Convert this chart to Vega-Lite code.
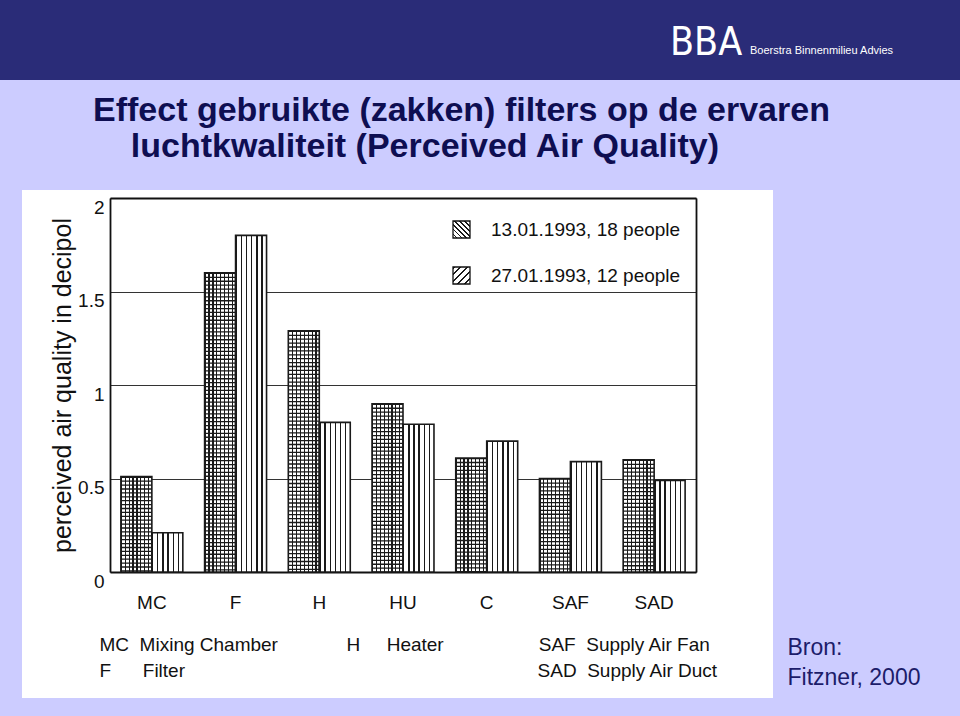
{
  "$schema": "https://vega.github.io/schema/vega-lite/v6.json",
  "background": "#ccccff",
  "padding": {"left": 0, "top": 0, "right": 0, "bottom": 18},
  "spacing": 14,
  "config": {"view": {"stroke": null}},
  "datasets": {
    "bars": [
      {"component": "MC", "series": "13.01.1993, 18 people", "value": 0.51},
      {"component": "MC", "series": "27.01.1993, 12 people", "value": 0.21},
      {"component": "F", "series": "13.01.1993, 18 people", "value": 1.60},
      {"component": "F", "series": "27.01.1993, 12 people", "value": 1.80},
      {"component": "H", "series": "13.01.1993, 18 people", "value": 1.29},
      {"component": "H", "series": "27.01.1993, 12 people", "value": 0.80},
      {"component": "HU", "series": "13.01.1993, 18 people", "value": 0.90},
      {"component": "HU", "series": "27.01.1993, 12 people", "value": 0.79},
      {"component": "C", "series": "13.01.1993, 18 people", "value": 0.61},
      {"component": "C", "series": "27.01.1993, 12 people", "value": 0.70},
      {"component": "SAF", "series": "13.01.1993, 18 people", "value": 0.50},
      {"component": "SAF", "series": "27.01.1993, 12 people", "value": 0.59},
      {"component": "SAD", "series": "13.01.1993, 18 people", "value": 0.60},
      {"component": "SAD", "series": "27.01.1993, 12 people", "value": 0.49}
    ]
  },
  "vconcat": [
    {
      "width": 960,
      "height": 80,
      "view": {"fill": "#2a2c78", "stroke": null},
      "layer": [
        {
          "data": {"values": [{"t": "BBA"}]},
          "mark": {"type": "text", "align": "left", "baseline": "alphabetic", "dx": 190, "dy": 15, "font": "DejaVu Sans Condensed, DejaVu Sans", "fontSize": 39, "color": "#ffffff"},
          "encoding": {"text": {"field": "t"}}
        },
        {
          "data": {"values": [{"t": "Boerstra Binnenmilieu Advies"}]},
          "mark": {"type": "text", "align": "left", "baseline": "alphabetic", "dx": 270, "dy": 14, "font": "Liberation Sans", "fontSize": 11, "color": "#ffffff"},
          "encoding": {"text": {"field": "t"}}
        }
      ]
    },
    {
      "spacing": 0,
      "hconcat": [
        {
          "width": 22,
          "height": 10,
          "view": {"fill": "#ccccff", "stroke": null},
          "data": {"values": [{"t": ""}]},
          "mark": {"type": "text"},
          "encoding": {"text": {"field": "t"}}
        },
        {
          "width": 751,
          "height": 508,
          "view": {"fill": "#ffffff", "stroke": null},
          "title": {
            "text": ["Effect gebruikte (zakken) filters op de ervaren", "\u200b\u00a0\u00a0\u00a0\u00a0luchtkwaliteit (Perceived Air Quality)"],
            "anchor": "start",
            "dx": 71,
            "offset": 26,
            "font": "Liberation Sans",
            "fontSize": 34,
            "fontWeight": "bold",
            "color": "#0e0e52",
            "lineHeight": 36
          },
          "data": {"name": "bars"},
          "layer": [
            {
              "mark": {"type": "bar", "stroke": null},
              "encoding": {
                "x": {"field": "component", "type": "nominal", "sort": ["MC", "F", "H", "HU", "C", "SAF", "SAD"], "axis": null},
                "xOffset": {"field": "series", "type": "nominal", "sort": ["13.01.1993, 18 people", "27.01.1993, 12 people"]},
                "y": {"field": "value", "type": "quantitative", "axis": null},
                "fill": {
                  "field": "series", "type": "nominal",
                  "sort": ["13.01.1993, 18 people", "27.01.1993, 12 people"],
                  "scale": {"range": [
                    {"expr": "{gradient: 'linear', x1: 1, y1: 0, x2: 0, y2: 1, stops: [{offset: 0, color: '#1a1a1a'}, {offset: 0.05, color: '#1a1a1a'}, {offset: 0.05, color: '#ffffff'}, {offset: 0.1429, color: '#ffffff'}, {offset: 0.1429, color: '#1a1a1a'}, {offset: 0.1929, color: '#1a1a1a'}, {offset: 0.1929, color: '#ffffff'}, {offset: 0.2857, color: '#ffffff'}, {offset: 0.2857, color: '#1a1a1a'}, {offset: 0.3357, color: '#1a1a1a'}, {offset: 0.3357, color: '#ffffff'}, {offset: 0.4286, color: '#ffffff'}, {offset: 0.4286, color: '#1a1a1a'}, {offset: 0.4786, color: '#1a1a1a'}, {offset: 0.4786, color: '#ffffff'}, {offset: 0.5714, color: '#ffffff'}, {offset: 0.5714, color: '#1a1a1a'}, {offset: 0.6214, color: '#1a1a1a'}, {offset: 0.6214, color: '#ffffff'}, {offset: 0.7143, color: '#ffffff'}, {offset: 0.7143, color: '#1a1a1a'}, {offset: 0.7643, color: '#1a1a1a'}, {offset: 0.7643, color: '#ffffff'}, {offset: 0.8571, color: '#ffffff'}, {offset: 0.8571, color: '#1a1a1a'}, {offset: 0.9071, color: '#1a1a1a'}, {offset: 0.9071, color: '#ffffff'}, {offset: 1, color: '#ffffff'}]}"},
                    {"expr": "{gradient: 'linear', x1: 0, y1: 0, x2: 1, y2: 1, stops: [{offset: 0, color: '#1a1a1a'}, {offset: 0.06, color: '#1a1a1a'}, {offset: 0.06, color: '#ffffff'}, {offset: 0.2, color: '#ffffff'}, {offset: 0.2, color: '#1a1a1a'}, {offset: 0.26, color: '#1a1a1a'}, {offset: 0.26, color: '#ffffff'}, {offset: 0.4, color: '#ffffff'}, {offset: 0.4, color: '#1a1a1a'}, {offset: 0.46, color: '#1a1a1a'}, {offset: 0.46, color: '#ffffff'}, {offset: 0.6, color: '#ffffff'}, {offset: 0.6, color: '#1a1a1a'}, {offset: 0.66, color: '#1a1a1a'}, {offset: 0.66, color: '#ffffff'}, {offset: 0.8, color: '#ffffff'}, {offset: 0.8, color: '#1a1a1a'}, {offset: 0.86, color: '#1a1a1a'}, {offset: 0.86, color: '#ffffff'}, {offset: 1, color: '#ffffff'}]}"}
                  ]},
                  "legend": {
                    "orient": "none", "legendX": 452, "legendY": 220, "title": null, "padding": 0,
                    "symbolType": "square", "symbolSize": 289, "symbolStrokeColor": "#111111", "symbolStrokeWidth": 1.3, "symbolOpacity": 1,
                    "labelFont": "Liberation Sans", "labelFontSize": 19, "labelColor": "#111111", "labelOffset": 20, "labelLimit": 400, "rowPadding": 23
                  }
                }
              }
            },
            {
              "transform": [{"filter": "datum.series === '13.01.1993, 18 people'"}],
              "mark": {"type": "bar", "stroke": null, "fill": {"gradient": "linear", "x1": 0, "y1": 0, "x2": 1, "y2": 0, "stops": [
                {"offset": 0, "color": "#1a1a1a"}, {"offset": 0.0375, "color": "#1a1a1a"}, {"offset": 0.0375, "color": "#ffffff"}, {"offset": 0.125, "color": "#ffffff"},
                {"offset": 0.125, "color": "#1a1a1a"}, {"offset": 0.1625, "color": "#1a1a1a"}, {"offset": 0.1625, "color": "#ffffff"}, {"offset": 0.25, "color": "#ffffff"},
                {"offset": 0.25, "color": "#1a1a1a"}, {"offset": 0.2875, "color": "#1a1a1a"}, {"offset": 0.2875, "color": "#ffffff"}, {"offset": 0.375, "color": "#ffffff"},
                {"offset": 0.375, "color": "#1a1a1a"}, {"offset": 0.4125, "color": "#1a1a1a"}, {"offset": 0.4125, "color": "#ffffff"}, {"offset": 0.5, "color": "#ffffff"},
                {"offset": 0.5, "color": "#1a1a1a"}, {"offset": 0.5375, "color": "#1a1a1a"}, {"offset": 0.5375, "color": "#ffffff"}, {"offset": 0.625, "color": "#ffffff"},
                {"offset": 0.625, "color": "#1a1a1a"}, {"offset": 0.6625, "color": "#1a1a1a"}, {"offset": 0.6625, "color": "#ffffff"}, {"offset": 0.75, "color": "#ffffff"},
                {"offset": 0.75, "color": "#1a1a1a"}, {"offset": 0.7875, "color": "#1a1a1a"}, {"offset": 0.7875, "color": "#ffffff"}, {"offset": 0.875, "color": "#ffffff"},
                {"offset": 0.875, "color": "#1a1a1a"}, {"offset": 0.9125, "color": "#1a1a1a"}, {"offset": 0.9125, "color": "#ffffff"}, {"offset": 1, "color": "#ffffff"}
              ]}},
              "encoding": {
                "x": {
                  "field": "component", "type": "nominal",
                  "sort": ["MC", "F", "H", "HU", "C", "SAF", "SAD"],
                  "scale": {"type": "band", "range": [88, 674], "paddingInner": 0.26, "paddingOuter": 0.13},
                  "axis": {
                    "orient": "bottom", "offset": -126, "domain": true, "domainColor": "#111111", "domainWidth": 1.8,
                    "ticks": false, "grid": false, "labelAngle": 0, "labelFont": "Liberation Sans", "labelFontSize": 19,
                    "labelColor": "#111111", "labelPadding": 21,
                    "title": [
                      "MC\u00a0\u00a0Mixing Chamber\u00a0\u00a0\u00a0\u00a0\u00a0\u00a0\u00a0\u00a0\u00a0\u00a0\u00a0\u00a0\u00a0H\u00a0\u00a0\u00a0\u00a0\u00a0Heater\u00a0\u00a0\u00a0\u00a0\u00a0\u00a0\u00a0\u00a0\u00a0\u00a0\u00a0\u00a0\u00a0\u00a0\u00a0\u00a0\u00a0\u00a0SAF\u00a0\u00a0Supply Air Fan",
                      "F\u00a0\u00a0\u00a0\u00a0\u00a0\u00a0Filter\u2003\u2003\u2003\u2003\u2003\u2003\u2003\u2003\u2003\u2003\u2003\u2003\u2003\u2003\u2003\u2003\u2003\u2003\u00a0\u00a0SAD\u00a0\u00a0Supply Air Duct"
                    ],
                    "titleFont": "Liberation Sans", "titleFontSize": 19, "titleFontWeight": "normal", "titleColor": "#111111",
                    "titleAlign": "left", "titleAnchor": "start", "titleBaseline": "alphabetic", "titleX": 77, "titleY": 78, "titleLineHeight": 26
                  }
                },
                "xOffset": {"field": "series", "type": "nominal", "sort": ["13.01.1993, 18 people", "27.01.1993, 12 people"], "scale": {"paddingInner": 0, "paddingOuter": 0}},
                "y": {
                  "field": "value", "type": "quantitative",
                  "scale": {"domain": [0, 2], "range": [382, 8], "nice": false},
                  "axis": {
                    "orient": "left", "offset": -88, "values": [0, 0.5, 1, 1.5, 2], "format": "~g",
                    "domain": true, "domainColor": "#111111", "domainWidth": 1.8, "ticks": false,
                    "labelFont": "Liberation Sans", "labelFontSize": 19, "labelColor": "#111111", "labelPadding": 6, "labelOffset": 9,
                    "grid": true, "gridColor": "#333333", "gridWidth": 1.1,
                    "title": "perceived air quality in decipol", "titleFont": "Liberation Sans", "titleFontSize": 25,
                    "titleFontWeight": "normal", "titleColor": "#111111", "titlePadding": 2
                  }
                }
              }
            },
            {
              "transform": [{"filter": "datum.series === '27.01.1993, 12 people'"}],
              "mark": {"type": "bar", "stroke": null, "fill": {"gradient": "linear", "x1": 0, "y1": 0, "x2": 1, "y2": 0, "stops": [
                {"offset": 0, "color": "#1a1a1a"}, {"offset": 0.045, "color": "#1a1a1a"}, {"offset": 0.045, "color": "#ffffff"}, {"offset": 0.1667, "color": "#ffffff"},
                {"offset": 0.1667, "color": "#1a1a1a"}, {"offset": 0.2117, "color": "#1a1a1a"}, {"offset": 0.2117, "color": "#ffffff"}, {"offset": 0.3333, "color": "#ffffff"},
                {"offset": 0.3333, "color": "#1a1a1a"}, {"offset": 0.3783, "color": "#1a1a1a"}, {"offset": 0.3783, "color": "#ffffff"}, {"offset": 0.5, "color": "#ffffff"},
                {"offset": 0.5, "color": "#1a1a1a"}, {"offset": 0.545, "color": "#1a1a1a"}, {"offset": 0.545, "color": "#ffffff"}, {"offset": 0.6667, "color": "#ffffff"},
                {"offset": 0.6667, "color": "#1a1a1a"}, {"offset": 0.7117, "color": "#1a1a1a"}, {"offset": 0.7117, "color": "#ffffff"}, {"offset": 0.8333, "color": "#ffffff"},
                {"offset": 0.8333, "color": "#1a1a1a"}, {"offset": 0.8783, "color": "#1a1a1a"}, {"offset": 0.8783, "color": "#ffffff"}, {"offset": 1, "color": "#ffffff"}
              ]}},
              "encoding": {
                "x": {"field": "component", "type": "nominal", "sort": ["MC", "F", "H", "HU", "C", "SAF", "SAD"], "axis": null},
                "xOffset": {"field": "series", "type": "nominal", "sort": ["13.01.1993, 18 people", "27.01.1993, 12 people"]},
                "y": {"field": "value", "type": "quantitative", "axis": null}
              }
            },
            {
              "transform": [{"filter": "datum.series === '13.01.1993, 18 people'"}],
              "mark": {"type": "rule", "strokeWidth": 31, "strokeDash": [1.3, 2.6], "color": "#1a1a1a"},
              "encoding": {
                "x": {
                  "field": "component", "type": "nominal",
                  "sort": ["MC", "F", "H", "HU", "C", "SAF", "SAD"],
                  "axis": {"orient": "top", "offset": -8, "labels": false, "ticks": false, "grid": false, "title": null, "domainColor": "#111111", "domainWidth": 1.8}
                },
                "xOffset": {"field": "series", "type": "nominal", "sort": ["13.01.1993, 18 people", "27.01.1993, 12 people"]},
                "y": {
                  "field": "value", "type": "quantitative",
                  "axis": {
                    "orient": "right", "offset": -77, "labels": false, "ticks": false, "grid": false,
                    "domainColor": "#111111", "domainWidth": 1.8,
                    "title": ["Bron:", "Fitzner, 2000"], "titleAngle": 0, "titleAlign": "left", "titleBaseline": "alphabetic",
                    "titleX": 91, "titleY": 464, "titleFont": "Liberation Sans", "titleFontSize": 23, "titleFontWeight": "normal",
                    "titleColor": "#1c1c6a", "titleLineHeight": 30
                  }
                },
                "y2": {"datum": 0}
              }
            },
            {
              "mark": {"type": "bar", "fill": "transparent", "stroke": "#1a1a1a", "strokeWidth": 1.6},
              "encoding": {
                "x": {"field": "component", "type": "nominal", "sort": ["MC", "F", "H", "HU", "C", "SAF", "SAD"], "axis": null},
                "xOffset": {"field": "series", "type": "nominal", "sort": ["13.01.1993, 18 people", "27.01.1993, 12 people"]},
                "y": {"field": "value", "type": "quantitative", "axis": null}
              }
            }
          ],
          "resolve": {"axis": {"x": "independent", "y": "independent"}}
        }
      ]
    }
  ]
}
